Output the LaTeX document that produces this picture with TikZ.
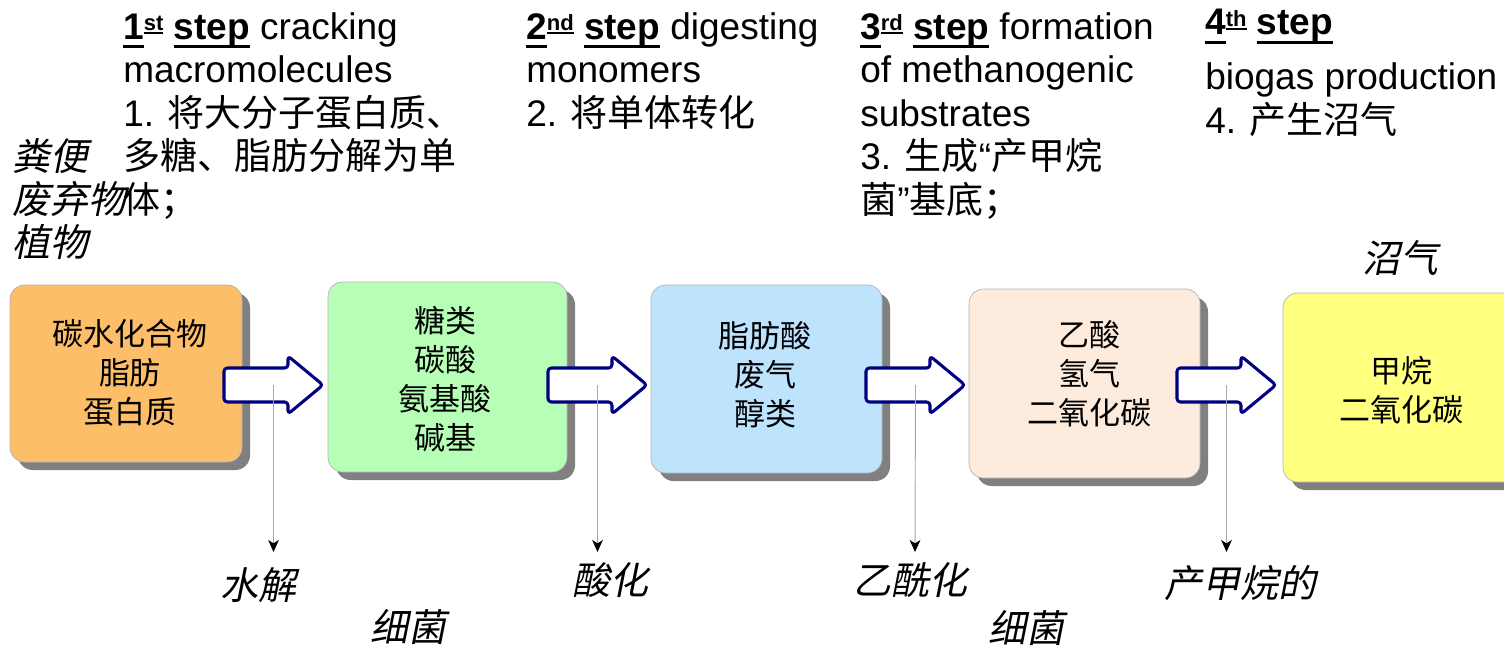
\documentclass[tikz,border=0pt]{standalone}
\usepackage{fontspec}
\setmainfont{Liberation Sans}
\newfontfamily\cjk{Noto Sans CJK SC}
\newfontfamily\cjkit[FakeSlant=0.2]{Noto Sans CJK SC}
\usetikzlibrary{shadows,arrows.meta}
\definecolor{boxA}{HTML}{FCBE69}
\definecolor{boxB}{HTML}{B7FFB7}
\definecolor{boxC}{HTML}{BEE3FD}
\definecolor{boxD}{HTML}{FDEBDD}
\definecolor{boxE}{HTML}{FFFF80}
\definecolor{navyline}{HTML}{000080}
\definecolor{shadowgray}{HTML}{808080}
\definecolor{pointgray}{HTML}{A8A8A8}
\newcommand\myul[1]{{\setbox0\hbox{#1}\rlap{\rule[-6.6pt]{\wd0}{2.2pt}}\box0}}
\newcommand\mysup[1]{\raisebox{6pt}{\fontsize{16.5}{16.5}\selectfont\setbox0\hbox{#1}\rlap{\rule[-2pt]{\wd0}{1.6pt}}\box0}}
\tikzset{
  hd/.style={anchor=base west, inner sep=0pt, font=\fontsize{27.75}{33}\selectfont},
  itl/.style={inner sep=0pt, font=\fontsize{28.5}{33}\selectfont\cjkit},
  box/.style={draw=gray!60, line width=0.5pt, rounded corners=11pt,
    drop shadow={shadow xshift=6pt, shadow yshift=-6pt, fill=shadowgray, opacity=1}},
  boxtxt/.style={inner sep=0pt, align=center, font=\fontsize{23.25}{29.25}\selectfont\cjk},
  blockarrow/.style={draw=navyline, line width=2.3pt, fill=white, rounded corners=2.5pt, line join=round},
  pointer/.style={draw=pointgray, line width=0.7pt, -{Stealth[length=9pt,width=8pt,inset=2.5pt,black]}}
}
\begin{document}
\begin{tikzpicture}[x=0.75pt,y=-0.75pt]
\useasboundingbox (0,0) rectangle (1504,646);
\clip (0,0) rectangle (1504,646);

% headers
\node[hd] (h1a) at (123,39) {\myul{\textbf{1}}\mysup{\textbf{st}} \myul{\textbf{step}} cracking};
\node[hd] (h1b) at (123,82.5) {macromolecules};
\node[hd] (h1c) at (123,126) {1. {\cjk 将大分子蛋白质、}};
\node[hd] (h1d) at (123,169.5) {\cjk 多糖、脂肪分解为单};
\node[hd] (h1e) at (123,213) {\cjk 体；};

\node[hd] (h2a) at (526,39) {\myul{\textbf{2}}\mysup{\textbf{nd}} \myul{\textbf{step}} digesting};
\node[hd] (h2b) at (526,82.5) {monomers};
\node[hd] (h2c) at (526,126) {2. {\cjk 将单体转化}};

\node[hd] (h3a) at (860,39) {\myul{\textbf{3}}\mysup{\textbf{rd}} \myul{\textbf{step}} formation};
\node[hd] (h3b) at (860,82.5) {of methanogenic};
\node[hd] (h3c) at (860,126) {substrates};
\node[hd] (h3d) at (860,169.5) {3. {\cjk 生成}“{\cjk 产甲烷}};
\node[hd] (h3e) at (860,213) {{\cjk 菌}”{\cjk 基底；}};

\node[hd] (h4a) at (1205,35) {\myul{\textbf{4}}\mysup{\textbf{th}} \myul{\textbf{step}}};
\node[hd] (h4b) at (1205,89) {biogas production};
\node[hd] (h4c) at (1205,133) {4. {\cjk 产生沼气}};

% left italic labels
\node[itl, anchor=base west] (s1) at (12,170) {粪便};
\node[itl, anchor=base west] (s2) at (12,213) {废弃物};
\node[itl, anchor=base west] (s3) at (12,256.5) {植物};

% boxes
\node[box, fill=boxA, minimum width=174pt, minimum height=132.75pt] (b1) at (126,373.5) {};
\node[box, fill=boxB, minimum width=179.25pt, minimum height=142.5pt] (b2) at (447.5,377) {};
\node[box, fill=boxC, minimum width=173.25pt, minimum height=141pt] (b3) at (766.5,379) {};
\node[box, fill=boxD, minimum width=173.25pt, minimum height=141.75pt] (b4) at (1084.5,383.5) {};
\node[box, fill=boxE, minimum width=178.5pt, minimum height=141.75pt] (b5) at (1402,387.5) {};

\node[boxtxt] (t1) at (130,373) {碳水化合物\\脂肪\\蛋白质};
\node[boxtxt] (t2) at (445,379.5) {糖类\\碳酸\\氨基酸\\碱基};
\node[boxtxt] (t3) at (765,374.5) {脂肪酸\\废气\\醇类};
\node[boxtxt] (t4) at (1089,374) {乙酸\\氢气\\二氧化碳};
\node[boxtxt] (t5) at (1401,390) {甲烷\\二氧化碳};

% block arrows
\foreach \x/\n in {224/a1,548/a2,866/a3,1177/a4}{
  \draw[blockarrow] (\x,368) -- ++(64,0) -- ++(0,-12) -- ++(35,29) -- ++(-35,29) -- ++(0,-12) -- ++(-64,0) -- cycle;
  \coordinate (\n) at (\x+49.5,385);
}
\coordinate (e1) at (273.5,552);
\coordinate (e2) at (597.5,552);
\coordinate (e3) at (915,552);
\coordinate (e4) at (1226.5,552);
\draw[pointer] (a1) -- (e1);
\draw[pointer] (a2) -- (e2);
\draw[pointer] (a3) -- (e3);
\draw[pointer] (a4) -- (e4);

% labels
\node[itl] (l1) at (258,585) {水解};
\node[itl] (l2) at (408,627) {细菌};
\node[itl] (l3) at (610,580) {酸化};
\node[itl] (l4) at (910,580) {乙酰化};
\node[itl] (l5) at (1240,583) {产甲烷的};
\node[itl] (l6) at (1026,628) {细菌};
\node[itl] (l7) at (1400,258) {沼气};
\end{tikzpicture}
\end{document}
